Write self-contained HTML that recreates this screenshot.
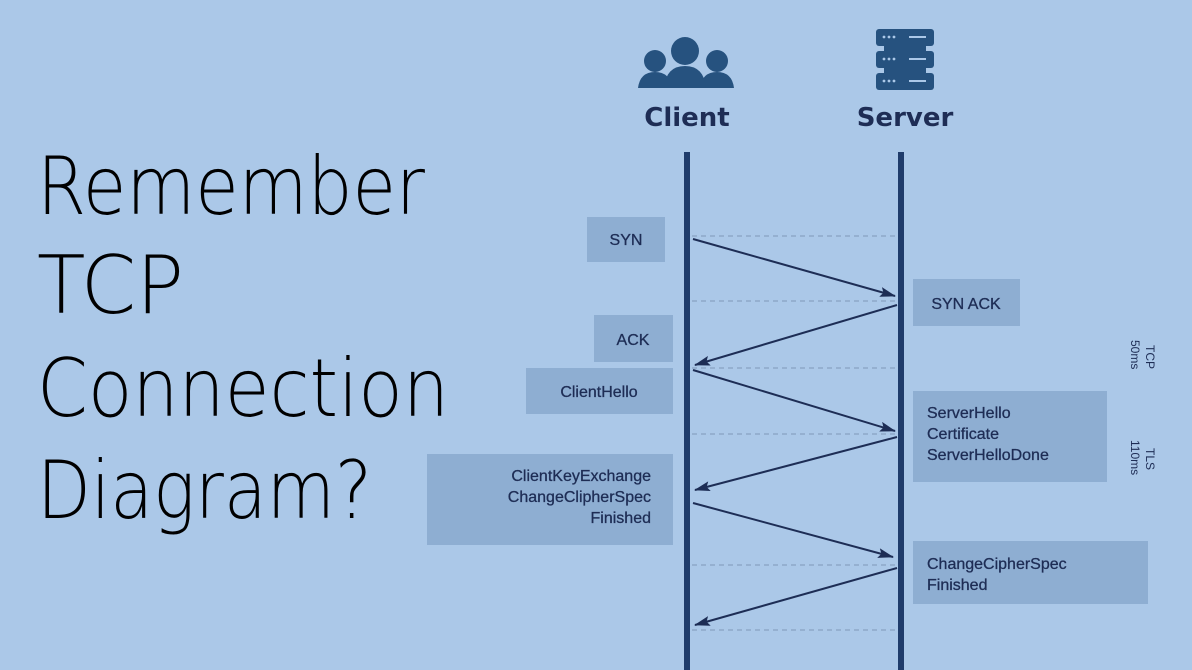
<!DOCTYPE html>
<html><head><meta charset="utf-8"><style>
html,body{margin:0;padding:0;}
body{width:1192px;height:670px;background:#abc8e8;overflow:hidden;}
svg{display:block;}
</style></head><body>
<svg width="1192" height="670" xmlns="http://www.w3.org/2000/svg">
<defs>
<marker id="ah" markerWidth="16" markerHeight="10" refX="15" refY="5" orient="auto" markerUnits="userSpaceOnUse" viewBox="0 0 16 10">
<path d="M0,0 L16,5 L0,10 L3,5 Z" fill="#1d2d55"/>
</marker>
</defs>
<rect width="1192" height="670" fill="#abc8e8"/>
<g font-family="DejaVu Sans ExtraLight, DejaVu Sans Light, Liberation Sans, sans-serif" font-weight="200" font-size="80" fill="#000">
<text x="37" y="214" textLength="388" lengthAdjust="spacingAndGlyphs">Remember</text>
<text x="37" y="313" textLength="147" lengthAdjust="spacingAndGlyphs">TCP</text>
<text x="37" y="416" textLength="412" lengthAdjust="spacingAndGlyphs">Connection</text>
<text x="37" y="518" textLength="335" lengthAdjust="spacingAndGlyphs">Diagram?</text>
</g>
<!-- client icon -->
<g fill="#26527f">
<circle cx="685" cy="51" r="14"/>
<circle cx="655" cy="61" r="11"/>
<circle cx="717" cy="61" r="11"/>
<path d="M638,88 Q640,72 655,72 Q670,72 672,88 Z"/>
<path d="M700,88 Q702,72 717,72 Q732,72 734,88 Z"/>
<path d="M664,88 Q666,66 685,66 Q704,66 706,88 Z"/>
</g>
<!-- server icon -->
<g fill="#26527f">
<rect x="876" y="29" width="58" height="17" rx="3"/>
<rect x="876" y="51" width="58" height="17" rx="3"/>
<rect x="876" y="73" width="58" height="17" rx="3"/>
<rect x="884" y="46" width="42" height="5"/>
<rect x="884" y="68" width="42" height="5"/>
</g>
<g fill="#abc8e8">
<circle cx="884" cy="37" r="1.4"/><circle cx="889" cy="37" r="1.4"/><circle cx="894" cy="37" r="1.4"/><rect x="909" y="36" width="17" height="2"/>
<circle cx="884" cy="59" r="1.4"/><circle cx="889" cy="59" r="1.4"/><circle cx="894" cy="59" r="1.4"/><rect x="909" y="58" width="17" height="2"/>
<circle cx="884" cy="81" r="1.4"/><circle cx="889" cy="81" r="1.4"/><circle cx="894" cy="81" r="1.4"/><rect x="909" y="80" width="17" height="2"/>
</g>
<g font-family="DejaVu Sans, Liberation Sans, sans-serif" font-weight="bold" font-size="26" fill="#1e2d55" text-anchor="middle">
<text x="687" y="126">Client</text>
<text x="905" y="126">Server</text>
</g>
<!-- lifelines -->
<rect x="684" y="152" width="6" height="518" fill="#1f3c6b"/>
<rect x="898" y="152" width="6" height="518" fill="#1f3c6b"/>
<!-- boxes -->
<g fill="#8eaed2">
<rect x="587" y="217" width="78" height="45"/>
<rect x="913" y="279" width="107" height="47"/>
<rect x="594" y="315" width="79" height="47"/>
<rect x="526" y="368" width="147" height="46"/>
<rect x="913" y="391" width="194" height="91"/>
<rect x="427" y="454" width="246" height="91"/>
<rect x="913" y="541" width="235" height="63"/>
</g>
<g font-family="Liberation Sans, sans-serif" font-size="16" fill="#1e2d55" stroke="#1e2d55" stroke-width="0.3">
<text x="626" y="245" text-anchor="middle">SYN</text>
<text x="966" y="309" text-anchor="middle">SYN ACK</text>
<text x="633" y="345" text-anchor="middle">ACK</text>
<text x="599" y="397" text-anchor="middle">ClientHello</text>
<text x="927" y="418">ServerHello</text>
<text x="927" y="439">Certificate</text>
<text x="927" y="460">ServerHelloDone</text>
<text x="651" y="481" text-anchor="end">ClientKeyExchange</text>
<text x="651" y="502" text-anchor="end">ChangeClipherSpec</text>
<text x="651" y="523" text-anchor="end">Finished</text>
<text x="927" y="569">ChangeCipherSpec</text>
<text x="927" y="590">Finished</text>
</g>
<g font-family="Liberation Sans, sans-serif" font-size="12" fill="#1e2d55">
<text transform="translate(1146,345) rotate(90)">TCP</text>
<text transform="translate(1131,340) rotate(90)">50ms</text>
<text transform="translate(1146,448) rotate(90)">TLS</text>
<text transform="translate(1131,440) rotate(90)">110ms</text>
</g>
<!-- dashed -->
<g stroke="#7f98b8" stroke-width="1" stroke-dasharray="5,4">
<line x1="692" y1="236" x2="897" y2="236"/>
<line x1="692" y1="301" x2="897" y2="301"/>
<line x1="692" y1="368" x2="897" y2="368"/>
<line x1="692" y1="434" x2="897" y2="434"/>
<line x1="692" y1="565" x2="897" y2="565"/>
<line x1="692" y1="630" x2="897" y2="630"/>
</g>
<!-- arrows -->
<g stroke="#1d2d55" stroke-width="2" marker-end="url(#ah)">
<line x1="693" y1="239" x2="895" y2="296"/>
<line x1="897" y1="305" x2="695" y2="365"/>
<line x1="693" y1="370" x2="895" y2="431"/>
<line x1="897" y1="437" x2="695" y2="490"/>
<line x1="693" y1="503" x2="893" y2="557"/>
<line x1="897" y1="568" x2="695" y2="625"/>
</g>
</svg>
</body></html>
